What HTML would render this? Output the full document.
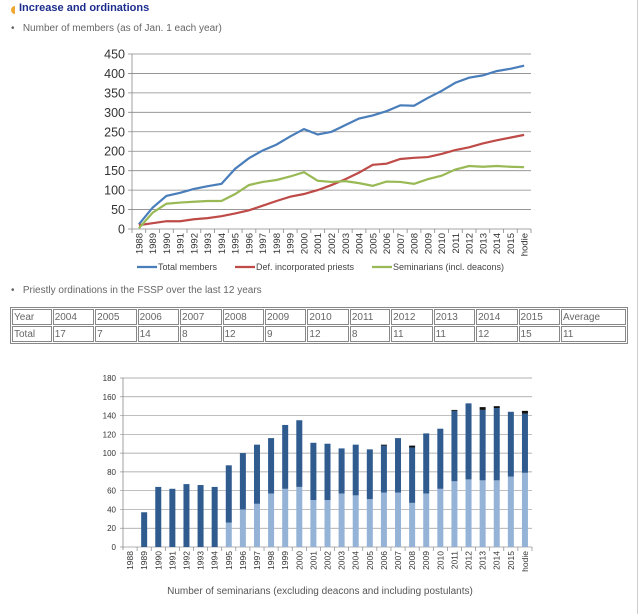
<!DOCTYPE html>
<html><head><meta charset="utf-8"><style>
body{margin:0;width:640px;height:614px;background:#fff;font-family:"Liberation Sans",sans-serif;position:relative;overflow:hidden}
.t{position:absolute;white-space:nowrap}
table{position:absolute;left:10px;top:307px;width:618px;border-collapse:separate;border-spacing:1px;border:1px solid #888;font-size:10px;color:#666}
td{border:1px solid #888;padding:0 1px;height:14px;line-height:13px}
</style></head><body>
<div style="position:absolute;left:11px;top:6px;width:4px;height:8px;background:#f0a830;border-radius:4px 0 0 4px"></div>
<div class="t" style="left:19px;top:2px;font-size:11px;font-weight:bold;color:#1c2c8c">Increase and ordinations</div>
<div class="t" style="left:11px;top:23px;font-size:10px;color:#666">•&nbsp;&nbsp; Number of members (as of Jan. 1 each year)</div>
<div class="t" style="left:11px;top:285px;font-size:10px;color:#666">•&nbsp;&nbsp; Priestly ordinations in the FSSP over the last 12 years</div>
<table>
<tr><td>Year</td><td>2004</td><td>2005</td><td>2006</td><td>2007</td><td>2008</td><td>2009</td><td>2010</td><td>2011</td><td>2012</td><td>2013</td><td>2014</td><td>2015</td><td>Average</td></tr>
<tr><td>Total</td><td>17</td><td>7</td><td>14</td><td>8</td><td>12</td><td>9</td><td>12</td><td>8</td><td>11</td><td>11</td><td>12</td><td>15</td><td>11</td></tr>
</table>
<div style="position:absolute;left:637px;top:0;width:1px;height:614px;background:#ccc"></div>
<svg id="c1" style="position:absolute;left:0;top:0" width="640" height="614"></svg>
<div class="t" style="left:0;width:640px;text-align:center;top:586px;font-size:10px;color:#555">Number of seminarians (excluding deacons and including postulants)</div>
<script>
const years=["1988","1989","1990","1991","1992","1993","1994","1995","1996","1997","1998","1999","2000","2001","2002","2003","2004","2005","2006","2007","2008","2009","2010","2011","2012","2013","2014","2015","hodie"];
const totalMembers=[12,55,85,93,103,110,116,155,182,202,217,238,257,243,250,267,284,292,303,318,317,337,355,376,389,395,406,412,420];
const priests=[10,15,20,20,25,28,33,40,48,60,72,83,90,100,113,128,145,165,168,180,183,185,193,203,210,220,228,235,242];
const seminarians=[2,42,65,68,70,72,72,90,113,121,126,135,146,124,121,123,118,111,122,121,116,128,137,153,162,160,162,160,159];
const yTicks1=[0,50,100,150,200,250,300,350,400,450];
const semLight=[0,0,0,0,0,0,0,26,40,46,57,62,64,50,50,57,55,51,58,58,47,57,62,70,72,71,71,75,79];
const semDark=[0,37,64,62,67,66,64,61,60,63,59,68,71,61,60,48,54,53,50,58,59,64,64,75,81,75,77,69,63];
const semBlack=[0,0,0,0,0,0,0,0,0,0,0,0,0,0,0,0,0,0,1,0,2,0,0,1,0,3,2,0,3];
const yTicks2=[0,20,40,60,80,100,120,140,160,180];
const NS="http://www.w3.org/2000/svg",svg=document.getElementById('c1');
function mk(t,a,p){const e=document.createElementNS(NS,t);for(const k in a)e.setAttribute(k,a[k]);(p||svg).appendChild(e);return e;}
// chart 1
const X0=132,X1=531,Y0=229,Y1=54,bw=(X1-X0)/years.length;
const x1=i=>X0+bw*(i+0.5),y1=v=>Y0-(v/450)*(Y0-Y1);
yTicks1.forEach(v=>{const g=mk('line',{x1:X0-4,x2:X1,y1:y1(v),y2:y1(v),stroke:'#888','stroke-width':0.8});

const t=mk('text',{x:X0-7,y:y1(v)+4.5,'text-anchor':'end','font-size':12.5,fill:'#333'});t.textContent=v;
});
mk('line',{x1:X0,x2:X0,y1:Y1,y2:Y0+4,stroke:'#888','stroke-width':0.8});
years.forEach((y,i)=>{const xx=X0+bw*(i+1);mk('line',{x1:xx,x2:xx,y1:Y0,y2:Y0+4,stroke:'#888','stroke-width':0.8});
const t=mk('text',{transform:`translate(${x1(i)+3.5},${Y0+4}) rotate(-90)`,'text-anchor':'end','font-size':9.5,fill:'#333'});t.textContent=y;
});
[[totalMembers,'#4a7ebb','total-members-line'],[priests,'#be4b48','priests-line'],[seminarians,'#98b954','seminarians-line']].forEach(([d,c,n])=>{
const p=mk('polyline',{points:d.map((v,i)=>x1(i)+','+y1(v)).join(' '),fill:'none',stroke:c,'stroke-width':2.2});
});
[['Total members','#4a7ebb',137],['Def. incorporated priests','#be4b48',235],['Seminarians (incl. deacons)','#98b954',372]].forEach(([l,c,x])=>{
const g=mk('g',{});
mk('line',{x1:x,x2:x+20,y1:267,y2:267,stroke:c,'stroke-width':2.2},g);
const t=mk('text',{x:x+21,y:270,'font-size':9,fill:'#444'},g);t.textContent=l;});
// chart 2
const A0=123,A1=532,B0=547,B1=378,cw=(A1-A0)/years.length;
const x2=i=>A0+cw*(i+0.5),y2=v=>B0-(v/180)*(B0-B1);
yTicks2.forEach(v=>{mk('line',{x1:A0-3,x2:A1,y1:y2(v),y2:y2(v),stroke:'#999','stroke-width':0.7});
const t=mk('text',{x:A0-7,y:y2(v)+3,'text-anchor':'end','font-size':8,fill:'#333'});t.textContent=v;
});
mk('line',{x1:A0,x2:A0,y1:B1,y2:B0+3,stroke:'#888','stroke-width':0.8});
years.forEach((y,i)=>{const xx=A0+cw*(i+1);mk('line',{x1:xx,x2:xx,y1:B0,y2:B0+4,stroke:'#888','stroke-width':0.7});
const t=mk('text',{transform:`translate(${x2(i)+3},${B0+4}) rotate(-90)`,'text-anchor':'end','font-size':8.5,fill:'#333'});t.textContent=y;

let base=0;[[semLight[i],'#95b3d7','bar-light'],[semDark[i],'#2f5b8f','bar-dark'],[semBlack[i],'#111','bar-black']].forEach(([v,c,n])=>{
if(v>0){const r=mk('rect',{x:x2(i)-3,width:6,y:y2(base+v),height:y2(base)-y2(base+v),fill:c});
}base+=v;});});
</script>
</body></html>
